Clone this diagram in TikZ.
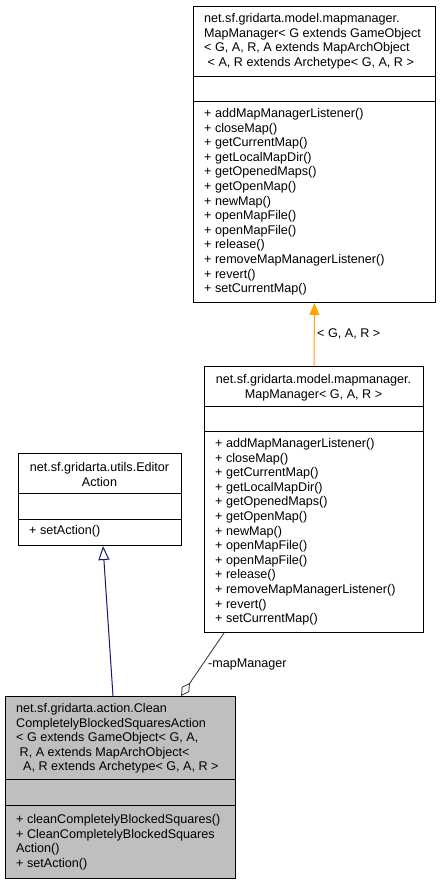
\documentclass[tikz,border=0pt]{standalone}
\usepackage{fontspec}
\setmainfont{Liberation Sans}
\usetikzlibrary{arrows.meta,calc}
\newcommand\umlfont{\fontsize{12.6}{14.6}\selectfont}
\definecolor{mainfill}{HTML}{BFBFBF}
\definecolor{edgeorange}{HTML}{FFA500}
\definecolor{edgenavy}{HTML}{191970}
\definecolor{edgegrey}{HTML}{404040}
\tikzset{
  umlbox/.style={draw=black, line width=1pt, inner sep=0pt, anchor=north west},
  divider/.style={draw=black, line width=1pt},
  txt/.style={inner sep=0pt, anchor=base west, font=\umlfont},
  ctxt/.style={inner sep=0pt, anchor=base, font=\umlfont},
  inhorange/.style={draw=edgeorange, line width=1pt, -{Triangle[length=12pt,width=10pt,fill=edgeorange]}},
  inhnavy/.style={draw=edgenavy, line width=1pt, -{Triangle[open,length=14pt,width=11pt]}},
  aggedge/.style={draw=edgegrey, line width=0.9pt, -{Diamond[open,length=16pt,width=9pt]}},
}
\begin{document}
\begin{tikzpicture}[x=1pt,y=-1pt]
\useasboundingbox (0,0) rectangle (440,881);

% top box: MapManager<G extends ...>
\node[umlbox, minimum width=242pt, minimum height=296pt] (b1) at (193,6) {};
\draw[divider] (193,76) -- (435,76);
\draw[divider] (193,101) -- (435,101);
\node[txt] (b1t) at (204,22.5) {\parbox[t]{240pt}{\raggedright
net.sf.gridarta.model.mapmanager.\\
MapManager< G extends GameObject\\
< G, A, R, A extends MapArchObject\\
\hspace*{3.5pt}< A, R extends Archetype< G, A, R >}};
\node[txt] (b1m) at (204,117.5) {\parbox[t]{240pt}{\raggedright
+ addMapManagerListener()\\
+ closeMap()\\
+ getCurrentMap()\\
+ getLocalMapDir()\\
+ getOpenedMaps()\\
+ getOpenMap()\\
+ newMap()\\
+ openMapFile()\\
+ openMapFile()\\
+ release()\\
+ removeMapManagerListener()\\
+ revert()\\
+ setCurrentMap()}};

% middle box: MapManager<G,A,R>
\node[umlbox, minimum width=219pt, minimum height=266pt] (b2) at (204,366) {};
\draw[divider] (204,406) -- (423,406);
\draw[divider] (204,431) -- (423,431);
\node[ctxt] (b2t) at (313.5,383.5) {\parbox[t]{230pt}{\centering
net.sf.gridarta.model.mapmanager.\\
MapManager< G, A, R >}};
\node[txt] (b2m) at (215,447.5) {\parbox[t]{240pt}{\raggedright
+ addMapManagerListener()\\
+ closeMap()\\
+ getCurrentMap()\\
+ getLocalMapDir()\\
+ getOpenedMaps()\\
+ getOpenMap()\\
+ newMap()\\
+ openMapFile()\\
+ openMapFile()\\
+ release()\\
+ removeMapManagerListener()\\
+ revert()\\
+ setCurrentMap()}};

% EditorAction box
\node[umlbox, minimum width=163pt, minimum height=92pt] (ea) at (18,453) {};
\draw[divider] (18,493) -- (181,493);
\draw[divider] (18,519) -- (181,519);
\node[ctxt] (eat) at (99.5,471.5) {\parbox[t]{180pt}{\centering
net.sf.gridarta.utils.Editor\\
Action}};
\node[txt] (eam) at (29,534.5) {+ setAction()};

% main (grey) box
\node[umlbox, fill=mainfill, minimum width=230pt, minimum height=182pt] (main) at (5,696) {};
\draw[divider] (5,779) -- (235,779);
\draw[divider] (5,805) -- (235,805);
\node[txt] (maint) at (16,712.5) {\parbox[t]{240pt}{\raggedright
net.sf.gridarta.action.Clean\\
CompletelyBlockedSquaresAction\\
< G extends GameObject< G, A,\\
\hspace*{3.5pt}R, A extends MapArchObject<\\
\hspace*{7pt}A, R extends Archetype< G, A, R >}};
\node[txt] (mainm) at (16,823.5) {\parbox[t]{240pt}{\raggedright
+ cleanCompletelyBlockedSquares()\\
+ CleanCompletelyBlockedSquares\\
Action()\\
+ setAction()}};

% connectors
\draw[inhorange] (b2.north) -- (b1.south);
\node[txt] (lblgar) at (317,337.5) {< G, A, R >};

\draw[inhnavy] ($(main.north west)+(108,0)$) -- ($(ea.south west)+(85,0)$);

\draw[aggedge] ($(b2.south west)+(20,0)$) -- ($(main.north west)+(176,0)$);
\node[txt] (lblmm) at (208,667.5) {-mapManager};
\end{tikzpicture}
\end{document}
